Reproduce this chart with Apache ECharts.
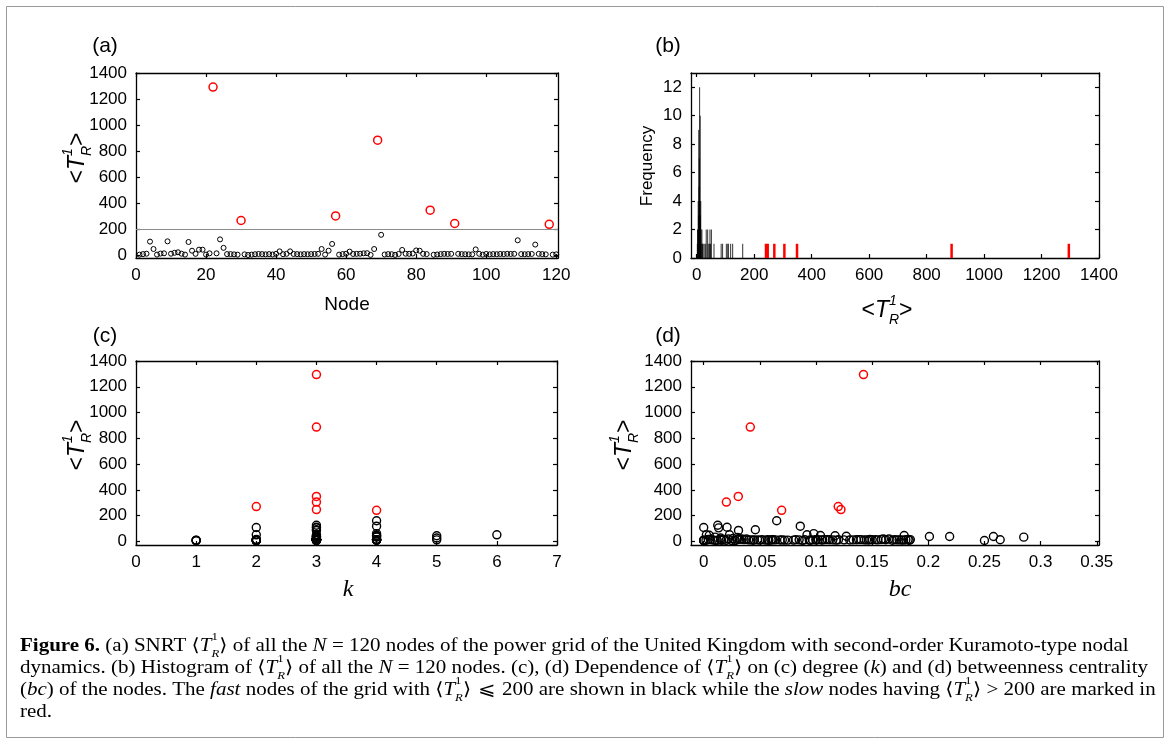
<!DOCTYPE html>
<html><head><meta charset="utf-8">
<script src="https://cdn.jsdelivr.net/npm/echarts@6/dist/echarts.min.js"></script>
<style>html,body{margin:0;padding:0;background:#fff;} #c{width:1170px;height:744px;}</style>
</head><body><div id="c"></div>
<script>
// ---------------- data ----------------
// SNRT <T_R^1> of the 120 nodes (node i = index+1)
const tR = [
  8,12,15,108,51,8,16,18,110,15,
  22,26,15,8,105,38,14,46,46,8,
  18,1295,18,125,60,12,12,10,8,270,
  10,5,8,11,13,12,10,12,9,14,
  33,11,14,33,13,12,10,12,11,12,
  13,14,51,8,38,90,305,8,12,15,
  31,13,14,15,18,19,6,51,887,160,
  9,12,11,6,13,44,15,14,16,40,
  38,14,12,349,7,9,12,14,13,14,
  247,14,12,11,10,10,48,14,8,13,
  10,12,11,13,12,14,13,14,118,12,
  11,12,13,85,14,12,10,241,8,10
];
// degree k of each node
const degree = [
  2,3,3,2,2,1,3,3,3,2,
  3,5,3,1,3,3,2,4,3,2,
  3,3,3,3,4,3,3,4,2,2,
  3,1,3,3,3,4,3,3,3,3,
  4,3,3,3,3,4,3,3,3,3,
  4,3,3,2,3,3,3,2,3,3,
  3,3,4,3,3,3,2,6,3,4,
  3,3,4,2,3,5,3,3,3,3,
  4,3,3,3,3,2,3,3,3,4,
  3,3,3,3,3,2,4,3,3,3,
  4,3,3,3,4,3,3,3,4,3,
  3,5,3,3,3,4,3,4,3,1
];
// betweenness centrality bc of each node
const betweenness = [
  0.002,0.008,0.015,0.0,0.0024,0.0,0.018,0.022,0.0208,0.004,
  0.026,0.015,0.03,0.0,0.0133,0.201,0.006,0.1785,0.104,0.01,
  0.034,0.1423,0.038,0.0125,0.098,0.042,0.045,0.05,0.012,0.1198,
  0.055,0.0,0.058,0.06,0.062,0.07,0.08,0.085,0.095,0.1,
  0.285,0.105,0.108,0.01,0.112,0.115,0.118,0.125,0.13,0.133,
  0.136,0.14,0.023,0.016,0.219,0.046,0.0202,0.02,0.145,0.148,
  0.03,0.15,0.153,0.158,0.16,0.165,0.025,0.092,0.0415,0.065,
  0.168,0.172,0.176,0.028,0.18,0.117,0.182,0.184,0.032,0.127,
  0.258,0.036,0.04,0.0308,0.25,0.044,0.048,0.052,0.264,0.057,
  0.1222,0.061,0.064,0.068,0.072,0.075,0.005,0.082,0.088,0.09,
  0.094,0.097,0.1,0.102,0.106,0.11,0.12,0.138,0.086,0.143,
  0.147,0.155,0.162,0.031,0.17,0.174,0.178,0.0694,0.183,0.0
];
const threshold = 200;
// histogram of fast nodes (bin value, frequency)
const histBins   = [2,3,4,5,6,7,8,9,10,11,12,13,14,15,16,18,20,22,26,31,33,38,40,44,46,48,51,60,85,90,103,108,110,118,125,160];
const histCounts = [1,2,2,4,3,9,5,7,12,4,10,3,4,2,1,2,1,1,1,1,2,2,1,1,2,1,2,1,1,1,1,1,1,1,1,1];
// tick labels
const nodeTicks = [0,20,40,60,80,100,120];
const tRTicks = [0,200,400,600,800,1000,1200,1400];
const freqTicks = [0,2,4,6,8,10,12];
const degreeTicks = [0,1,2,3,4,5,6,7];
const bcTicks = [0,0.05,0.1,0.15,0.2,0.25,0.3,0.35];

// ---------------- chart ----------------
const SANS = 'Liberation Sans, Arial, Helvetica, sans-serif';
const SERIF = 'Liberation Serif, DejaVu Serif, serif';
const chart = echarts.init(document.getElementById('c'), null, {renderer:'canvas'});

const grids = [
  {left:136, top:73, width:422, height:185},
  {left:691, top:73, width:408, height:185},
  {left:136, top:361, width:421, height:184},
  {left:691, top:361, width:408, height:184}
].map(g => Object.assign({outerBoundsMode:'none', containLabel:false}, g));

function makeAxis(gi, pos, min, max, ticks, showLabel) {
  return {
    type:'value', gridIndex:gi, position:pos, min:min, max:max,
    splitLine:{show:false},
    axisLine:{show:true, onZero:false, lineStyle:{color:'#000', width:1.3}},
    axisTick:{show:true, inside:true, length:4, customValues:ticks, lineStyle:{color:'#000', width:1.2}},
    axisLabel:{show:showLabel, customValues:ticks, color:'#000', fontFamily:SANS, fontSize:17, margin:9,
      formatter: v => String(+v.toFixed(4))}
  };
}
const xRanges = [[0,120.5,nodeTicks],[-20,1400,tRTicks],[0,7,degreeTicks],[-0.0113,0.352,bcTicks]];
const yRanges = [[-18,1403,tRTicks],[0,13,freqTicks],[-28,1400,tRTicks],[-28,1400,tRTicks]];
const xAxis = [], yAxis = [];
for (let g = 0; g < 4; g++) {
  xAxis.push(makeAxis(g,'bottom',xRanges[g][0],xRanges[g][1],xRanges[g][2],true));
  xAxis.push(makeAxis(g,'top',xRanges[g][0],xRanges[g][1],xRanges[g][2],false));
  yAxis.push(makeAxis(g,'left',yRanges[g][0],yRanges[g][1],yRanges[g][2],true));
  yAxis.push(makeAxis(g,'right',yRanges[g][0],yRanges[g][1],yRanges[g][2],false));
}

const fastA = [], slowA = [], fastC = [], slowC = [], fastD = [], slowD = [], slowHist = [];
tR.forEach((v, i) => {
  const slow = v > threshold;
  (slow ? slowA : fastA).push([i + 1, v]);
  (slow ? slowC : fastC).push([degree[i], v]);
  (slow ? slowD : fastD).push([betweenness[i], v]);
  if (slow) slowHist.push([v, 1]);
});
const fastHist = histBins.map((b, i) => [b, histCounts[i]]);

function scatter(gi, data, color, size, bw) {
  return {type:'scatter', xAxisIndex:2*gi, yAxisIndex:2*gi, data:data, symbol:'circle', symbolSize:size,
    itemStyle:{color:'rgba(0,0,0,0)', borderColor:color, borderWidth:bw, opacity:1}, silent:true, animation:false};
}
function impulses(gi, data, color, w) {
  return {type:'custom', xAxisIndex:2*gi, yAxisIndex:2*gi, data:data, silent:true, animation:false,
    renderItem:(params, api) => {
      const p0 = api.coord([api.value(0), 0]);
      const p1 = api.coord([api.value(0), api.value(1)]);
      return {type:'line', shape:{x1:p0[0], y1:p0[1], x2:p1[0], y2:p1[1]}, style:{stroke:color, lineWidth:w}};
    }};
}
const BLACK = '#000', RED = '#ff0000';
const series = [
  Object.assign(scatter(0, fastA, BLACK, 5, 1), {markLine:{silent:true, symbol:['none','none'], animation:false,
    label:{show:false}, lineStyle:{color:'#8c8c8c', type:'solid', width:1}, data:[{yAxis:threshold}]}}),
  scatter(0, slowA, RED, 8, 1.5),
  impulses(1, fastHist, 'rgba(0,0,0,0.8)', 1),
  impulses(1, slowHist, RED, 2.5),
  scatter(2, fastC, BLACK, 8, 1.4),
  scatter(2, slowC, RED, 8, 1.5),
  scatter(3, fastD, BLACK, 8, 1.4),
  scatter(3, slowD, RED, 8, 1.5)
];

// ----- text helpers -----
const tRich = (fs) => {
  const s = Math.round(fs * 0.62), lh = fs + 10;
  return {
    n:{fontSize:fs, fontFamily:SANS, lineHeight:lh, align:'left'},
    i:{fontSize:fs, fontFamily:SANS, fontStyle:'italic', lineHeight:lh, align:'left'},
    sup:{fontSize:s, fontFamily:SANS, fontStyle:'italic', verticalAlign:'top', lineHeight:s + 2, width:0.001, align:'left'},
    sub:{fontSize:s, fontFamily:SANS, fontStyle:'italic', verticalAlign:'bottom', lineHeight:s + 2, align:'left'}
  };
};
const tLabel = '{n|<}{i|T}{sup|1}{sub|R}{n|>}';
function text(x, y, str, style, rot) {
  return {type:'text', x:x, y:y, rotation:rot || 0, silent:true,
    style:Object.assign({text:str, fill:'#000', align:'center', verticalAlign:'middle'}, style)};
}
const graphics = [
  {type:'rect', shape:{x:6.5, y:6.5, width:1157, height:731}, style:{fill:'none', stroke:'#9a9a9a', lineWidth:1}, silent:true},
  text(105, 46, '(a)', {fontSize:21, fontFamily:SANS}),
  text(668, 46, '(b)', {fontSize:21, fontFamily:SANS}),
  text(105, 336, '(c)', {fontSize:21, fontFamily:SANS}),
  text(668, 336, '(d)', {fontSize:21, fontFamily:SANS}),
  text(347, 305, 'Node', {fontSize:19, fontFamily:SANS}),
  text(647, 166, 'Frequency', {fontSize:17, fontFamily:SANS}, Math.PI/2),
  text(887, 311, tLabel, {rich:tRich(23)}),
  text(78, 158, tLabel, {rich:tRich(23)}, Math.PI/2),
  text(78, 445, tLabel, {rich:tRich(23)}, Math.PI/2),
  text(625, 445, tLabel, {rich:tRich(23)}, Math.PI/2),
  text(348, 590, 'k', {fontSize:24, fontFamily:SERIF, fontStyle:'italic'}),
  text(900, 590, 'bc', {fontSize:24, fontFamily:SERIF, fontStyle:'italic'})
];

// ----- caption -----
const CFS = 18, CLH = 28;
const capRich = {
  r:{fontSize:CFS, fontFamily:SERIF, lineHeight:CLH, align:'left'},
  b:{fontSize:CFS, fontFamily:SERIF, fontWeight:'bold', lineHeight:CLH, align:'left'},
  i:{fontSize:CFS, fontFamily:SERIF, fontStyle:'italic', lineHeight:CLH, align:'left'},
  m:{fontSize:CFS, fontFamily:'DejaVu Serif, serif', lineHeight:CLH, align:'left'},
  sup:{fontSize:11, fontFamily:SERIF, verticalAlign:'top', lineHeight:16, width:0.001, align:'left'},
  sub:{fontSize:11, fontFamily:SERIF, fontStyle:'italic', verticalAlign:'bottom', lineHeight:16, align:'left'}
};
const T = [['m','⟨'],['i','T'],['sup','1'],['sub','R'],['m','⟩']];
const capLines = [
  [['b','Figure 6.'],['r',' (a) SNRT '],...T,['r',' of all the '],['i','N'],['r',' = 120 nodes of the power grid of the United Kingdom with second-order Kuramoto-type nodal']],
  [['r','dynamics. (b) Histogram of '],...T,['r',' of all the '],['i','N'],['r',' = 120 nodes. (c), (d) Dependence of '],...T,['r',' on (c) degree ('],['i','k'],['r',') and (d) betweenness centrality']],
  [['r','('],['i','bc'],['r',') of the nodes. The '],['i','fast'],['r',' nodes of the grid with '],...T,['m',' ⩽ '],['r','200 are shown in black while the '],['i','slow'],['r',' nodes having '],...T,['r',' > 200 are marked in']],
  [['r','red.']]
];
// measure natural width of line 2 to fit the printed column
const mctx = document.createElement('canvas').getContext('2d');
function fontOf(k) {
  const s = capRich[k];
  return (s.fontStyle === 'italic' ? 'italic ' : '') + (s.fontWeight === 'bold' ? 'bold ' : '') + s.fontSize + 'px ' + s.fontFamily;
}
function lineWidth(toks) {
  let w = 0;
  toks.forEach(([k, s]) => { if (k === 'sup') return; mctx.font = fontOf(k); w += mctx.measureText(s).width; });
  return w;
}
const capScale = 1128 / lineWidth(capLines[1]);
const capY = [646, 668, 690, 712];
capLines.forEach((toks, li) => {
  graphics.push({type:'text', x:20, y:capY[li], scaleX:capScale, silent:true,
    style:{text:toks.map(([k, s]) => '{' + k + '|' + s + '}').join(''), rich:capRich, align:'left', verticalAlign:'middle', fill:'#000'}});
});

chart.setOption({
  animation:false,
  backgroundColor:'#fff',
  grid:grids, xAxis:xAxis, yAxis:yAxis, series:series, graphic:graphics
});
</script></body></html>
